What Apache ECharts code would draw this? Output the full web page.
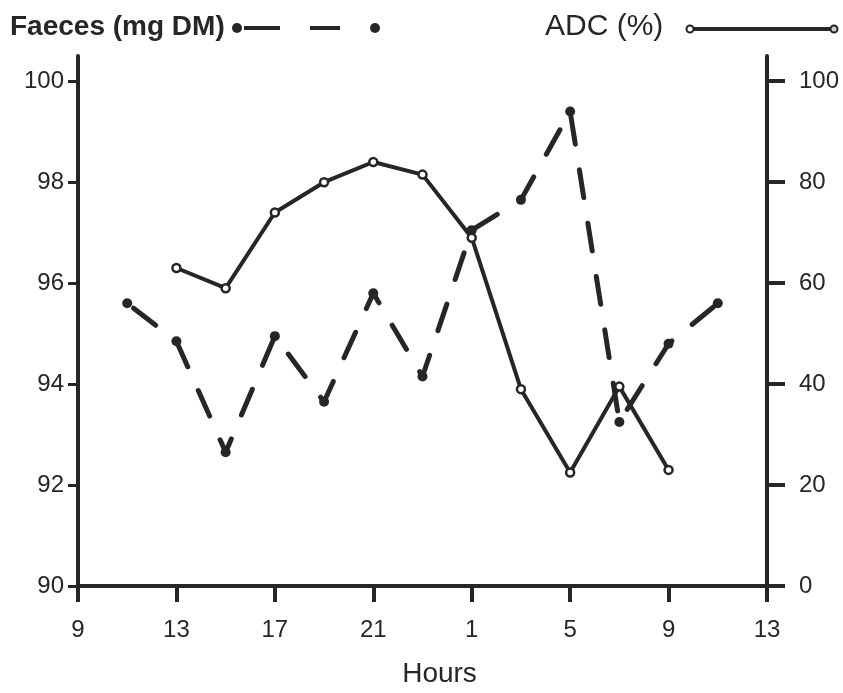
<!DOCTYPE html>
<html>
<head>
<meta charset="utf-8">
<script src="https://cdn.jsdelivr.net/npm/echarts@6/dist/echarts.min.js"></script>
<style>
  html, body { margin: 0; padding: 0; background: #ffffff; }
  #chart { width: 843px; height: 693px; }
</style>
</head>
<body>
<div id="chart"></div>
<script>
// Clock hours on a continuous scale (25 = 1 h next day), start of axis = 9 h
const startHour = 9;
const xTickHours = [9, 13, 17, 21, 1, 5, 9, 13];

// Faeces (mg DM) — dashed line, left axis
const faecesHours  = [11, 13, 15, 17, 19, 21, 23, 25, 27, 29, 31, 33, 35];
const faecesValues = [95.6, 94.85, 92.65, 94.95, 93.65, 95.8, 94.15, 97.05, 97.65, 99.4, 93.25, 94.8, 95.6];

// ADC (%) — solid line, right axis
const adcHours  = [13, 15, 17, 19, 21, 23, 25, 27, 29, 31, 33];
const adcValues = [63, 59, 74, 80, 84, 81.5, 69, 39, 22.5, 39.5, 23];

const leftTicks  = [90, 92, 94, 96, 98, 100];
const rightTicks = [0, 20, 40, 60, 80, 100];

const ink = '#262626';
const font = '"Liberation Sans", Arial, sans-serif';

const faecesData = faecesHours.map((h, i) => [h - startHour, faecesValues[i]]);
const adcData = adcHours.map((h, i) => [h - startHour, adcValues[i]]);

const chart = echarts.init(document.getElementById('chart'), null, { renderer: 'canvas' });

chart.setOption({
  animation: false,
  backgroundColor: '#ffffff',
  grid: { left: 78, right: 76, top: 56, bottom: 99, containLabel: false },
  xAxis: {
    type: 'value',
    min: 0, max: 28, interval: 4,
    name: 'Hours',
    nameLocation: 'middle',
    nameGap: 74,
    nameTextStyle: { fontFamily: font, fontSize: 28, color: ink, padding: [0, 0, 0, 34] },
    axisLine: { show: true, onZero: false, lineStyle: { color: ink, width: 4 } },
    axisTick: { show: true, length: 16, lineStyle: { color: ink, width: 4 } },
    axisLabel: {
      margin: 32, fontFamily: font, fontSize: 24, color: ink,
      formatter: v => String(xTickHours[Math.round(v / 4)])
    },
    splitLine: { show: false }
  },
  yAxis: [
    {
      type: 'value', position: 'left',
      min: 90, max: 100.5, interval: 2,
      axisLine: { show: true, lineStyle: { color: ink, width: 4 } },
      axisTick: { show: true, length: 10, lineStyle: { color: ink, width: 3 } },
      axisLabel: {
        margin: 14, fontFamily: font, fontSize: 24, color: ink,
        showMaxLabel: false,
        formatter: v => leftTicks.includes(v) ? String(v) : ''
      },
      splitLine: { show: false }
    },
    {
      type: 'value', position: 'right',
      min: 0, max: 105, interval: 20,
      axisLine: { show: true, lineStyle: { color: ink, width: 4 } },
      axisTick: { show: true, length: 18, lineStyle: { color: ink, width: 4 } },
      axisLabel: {
        margin: 32, fontFamily: font, fontSize: 24, color: ink,
        showMaxLabel: false,
        formatter: v => rightTicks.includes(v) ? String(v) : ''
      },
      splitLine: { show: false }
    }
  ],
  series: [
    {
      name: 'Faeces (mg DM)', type: 'line', yAxisIndex: 0,
      data: faecesData,
      symbol: 'circle', symbolSize: 10,
      itemStyle: { color: ink },
      lineStyle: { color: ink, width: 5, type: [28, 26], cap: 'round', dashOffset: -8 },
      z: 2
    },
    {
      name: 'ADC (%)', type: 'line', yAxisIndex: 1,
      data: adcData,
      symbol: 'circle', symbolSize: 8,
      itemStyle: { color: '#ffffff', borderColor: ink, borderWidth: 2.5 },
      lineStyle: { color: ink, width: 4 },
      z: 3
    }
  ],
  graphic: [
    { type: 'text', left: 10, top: 13,
      style: { text: 'Faeces (mg DM)', fontFamily: font, fontSize: 28, fontWeight: 'bold', fill: ink } },
    { type: 'circle', shape: { cx: 237, cy: 28, r: 5 }, style: { fill: ink } },
    { type: 'line', shape: { x1: 244, y1: 28, x2: 280, y2: 28 }, style: { stroke: ink, lineWidth: 4 } },
    { type: 'line', shape: { x1: 310, y1: 28, x2: 340, y2: 28 }, style: { stroke: ink, lineWidth: 4 } },
    { type: 'circle', shape: { cx: 375, cy: 28, r: 5 }, style: { fill: ink } },
    { type: 'text', left: 545, top: 12,
      style: { text: 'ADC (%)', fontFamily: font, fontSize: 30, fill: ink } },
    { type: 'line', shape: { x1: 690, y1: 29, x2: 834, y2: 29 }, style: { stroke: ink, lineWidth: 4 } },
    { type: 'circle', shape: { cx: 690, cy: 29, r: 3.5 }, style: { fill: '#fff', stroke: ink, lineWidth: 2 } },
    { type: 'circle', shape: { cx: 834, cy: 29, r: 3.5 }, style: { fill: '#ccc', stroke: ink, lineWidth: 2 } }
  ]
});
</script>
</body>
</html>
